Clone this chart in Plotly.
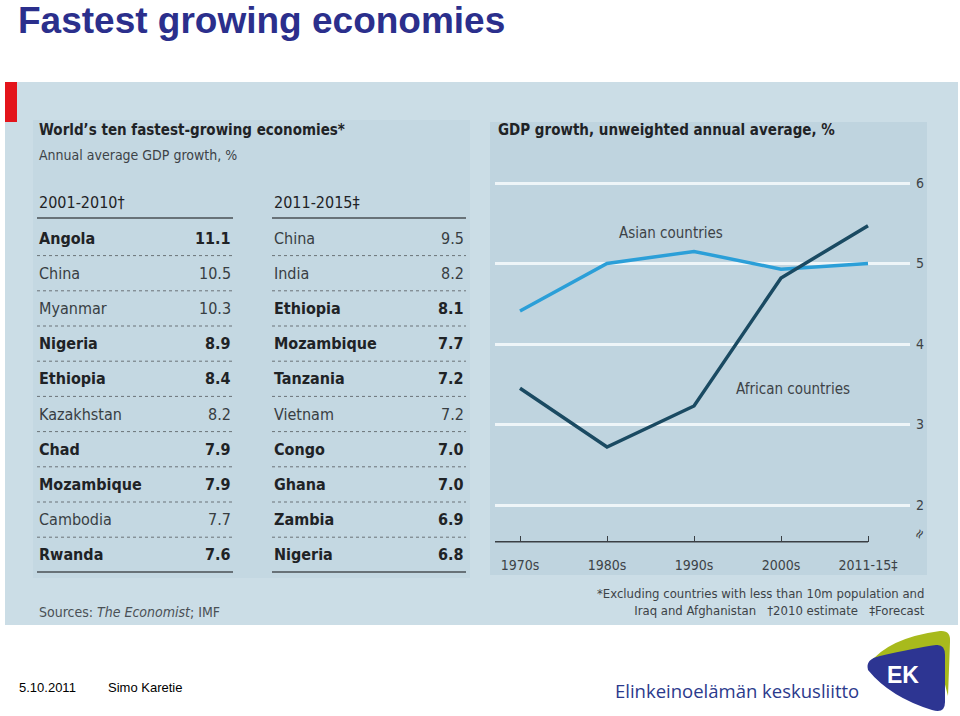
import plotly.graph_objects as go

# ---------------- data ----------------
decades = ["1970s", "1980s", "1990s", "2000s", "2011-15\u2021"]
asian_growth = [4.41, 5.0, 5.15, 4.93, 5.0]
african_growth = [3.45, 2.72, 3.23, 4.82, 5.47]
y_ticks = [2, 3, 4, 5, 6]

countries_2001_2010 = ["Angola", "China", "Myanmar", "Nigeria", "Ethiopia",
                       "Kazakhstan", "Chad", "Mozambique", "Cambodia", "Rwanda"]
growth_2001_2010 = ["11.1", "10.5", "10.3", "8.9", "8.4", "8.2", "7.9", "7.9", "7.7", "7.6"]
african_2001_2010 = [True, False, False, True, True, False, True, True, False, True]

countries_2011_2015 = ["China", "India", "Ethiopia", "Mozambique", "Tanzania",
                       "Vietnam", "Congo", "Ghana", "Zambia", "Nigeria"]
growth_2011_2015 = ["9.5", "8.2", "8.1", "7.7", "7.2", "7.2", "7.0", "7.0", "6.9", "6.8"]
african_2011_2015 = [False, False, True, True, True, False, True, True, True, True]

W, H = 960, 716


def px(x):
    return x / W


def py(y):
    return 1 - y / H


FONT = "DejaVu Sans Condensed, Liberation Sans Narrow, DejaVu Sans, sans-serif"
DARK = "#1f2326"
MID = "#3d4347"

fig = go.Figure()

# line chart
fig.add_trace(go.Scatter(x=decades, y=asian_growth, mode="lines",
                         line=dict(color="#2b9fd8", width=3.5), showlegend=False,
                         hoverinfo="skip"))
fig.add_trace(go.Scatter(x=decades, y=african_growth, mode="lines",
                         line=dict(color="#1a4a62", width=3.5), showlegend=False,
                         hoverinfo="skip"))

# axis geometry (pixels)
x_left, x_right = 495, 910
y_top, y_base = 160, 541.7
unit = 80.5
cat_first, cat_step = 520, 87
y_lo = 2 - (y_base - 505) / unit
y_hi = 6 + (183 - y_top) / unit
x_lo = -(cat_first - x_left) / cat_step
x_hi = (x_right - cat_first) / cat_step

fig.update_layout(
    width=W, height=H,
    margin=dict(l=0, r=0, t=0, b=0),
    paper_bgcolor="white",
    plot_bgcolor="rgba(0,0,0,0)",
    xaxis=dict(domain=[px(x_left), px(x_right)], range=[x_lo, x_hi],
               type="category", showgrid=False, zeroline=False, showline=False,
               ticks="inside", ticklen=6, tickwidth=1, tickcolor="#3a3f44",
               tickfont=dict(family=FONT, size=14, color=MID),
               ticklabelstandoff=13),
    yaxis=dict(domain=[py(y_base), py(y_top)], range=[y_lo, y_hi],
               side="right", tickvals=y_ticks, showgrid=True,
               gridcolor="#eef5f8", gridwidth=2.5, zeroline=False, showline=False,
               ticks="", tickfont=dict(family=FONT, size=14, color=MID),
               ticklabelstandoff=5),
)

shapes = []
# main panel
shapes.append(dict(type="rect", xref="paper", yref="paper", x0=px(5), x1=px(958),
                   y0=py(625), y1=py(82), fillcolor="#cbdde6", line=dict(width=0), layer="below"))
# table sub-panel
shapes.append(dict(type="rect", xref="paper", yref="paper", x0=px(33), x1=px(470),
                   y0=py(578), y1=py(120), fillcolor="#c4d8e2", line=dict(width=0), layer="below"))
# chart sub-panel
shapes.append(dict(type="rect", xref="paper", yref="paper", x0=px(490), x1=px(927),
                   y0=py(575), y1=py(122), fillcolor="#bfd4df", line=dict(width=0), layer="below"))
# red marker
shapes.append(dict(type="rect", xref="paper", yref="paper", x0=px(5), x1=px(17),
                   y0=py(122), y1=py(82), fillcolor="#e3141b", line=dict(width=0), layer="below"))
# baseline of the line chart
shapes.append(dict(type="line", xref="x", yref="y domain", x0=x_lo, x1=4, y0=0, y1=0,
                   line=dict(color="#3a3f44", width=1.5)))

annotations = []


def ann(text, x, y, size, color=DARK, bold=False, xanchor="left", family=FONT, **kw):
    if bold:
        text = "<b>" + text + "</b>"
    annotations.append(dict(text=text, x=px(x), y=py(y), xref="paper", yref="paper",
                            xanchor=xanchor, yanchor="middle", showarrow=False,
                            font=dict(size=size, color=color, family=family), **kw))


# slide title
ann("Fastest growing economies", 16, 20, 37, color="#2b2f8c", bold=True,
    family="Liberation Sans, Arial, sans-serif")

# table titles
ann("World\u2019s ten fastest-growing economies*", 37, 130, 15, bold=True)
ann("Annual average GDP growth, %", 37, 155, 14, color=MID)
ann("2001-2010\u2020", 37, 202, 16, color=DARK)
ann("2011-2015\u2021", 272, 202, 16, color=DARK)

row_y0, row_step = 238, 35.2
columns = [
    (countries_2001_2010, growth_2001_2010, african_2001_2010, 37, 233),
    (countries_2011_2015, growth_2011_2015, african_2011_2015, 272, 466),
]
for names, vals, bolds, xl, xr in columns:
    shapes.append(dict(type="line", xref="paper", yref="paper", x0=px(xl), x1=px(xr),
                       y0=py(218), y1=py(218), line=dict(color="#4a5055", width=1.5)))
    shapes.append(dict(type="line", xref="paper", yref="paper", x0=px(xl), x1=px(xr),
                       y0=py(572), y1=py(572), line=dict(color="#4a5055", width=1.5)))
    for i, (n, v, b) in enumerate(zip(names, vals, bolds)):
        y = row_y0 + i * row_step
        col = DARK if b else "#383e42"
        ann(n, xl, y, 16, color=col, bold=b)
        ann(v, xr, y, 16, color=col, bold=b, xanchor="right")
        if i < len(names) - 1:
            yl = y + row_step / 2
            shapes.append(dict(type="line", xref="paper", yref="paper", x0=px(xl), x1=px(xr),
                               y0=py(yl), y1=py(yl),
                               line=dict(color="#6b7378", width=1, dash="dot")))

ann("Sources: <i>The Economist</i>; IMF", 37, 612, 14, color="#4a5055")

# chart texts
ann("GDP growth, unweighted annual average, %", 496, 130, 15, bold=True)
annotations.append(dict(text="Asian countries", x=2, y=5.38, xref="x", yref="y",
                        xanchor="center", yanchor="middle", showarrow=False,
                        font=dict(size=15, color=MID, family=FONT), xshift=-23))
annotations.append(dict(text="African countries", x=3, y=3.44, xref="x", yref="y",
                        xanchor="center", yanchor="middle", showarrow=False,
                        font=dict(size=15, color=MID, family=FONT), xshift=12))
ann("\u2248", 919, 534, 14, color=MID, xanchor="center", textangle=-60)
annotations.append(dict(text="*Excluding countries with less than 10m population and<br>"
                             "Iraq and Afghanistan &nbsp;&nbsp;\u20202010 estimate &nbsp;&nbsp;\u2021Forecast",
                        x=px(927), y=py(602), xref="paper", yref="paper",
                        xanchor="right", yanchor="middle", align="right", showarrow=False,
                        font=dict(size=13, color=MID, family=FONT)))

# footer
ann("5.10.2011", 17, 687, 13, color="black", family="Liberation Sans, Arial, sans-serif")
ann("Simo Karetie", 106, 687, 13, color="black", family="Liberation Sans, Arial, sans-serif")
ann("Elinkeinoelämän keskusliitto", 613, 690, 18.5, color="#2b3a8c",
    family="Open Sans, Lato, sans-serif")


def path(cmds):
    out = []
    for c in cmds:
        if c[0] == "Z":
            out.append("Z")
        elif c[0] in ("M", "L"):
            out.append(f"{c[0]} {px(c[1]):.5f},{py(c[2]):.5f}")
        elif c[0] == "Q":
            out.append(f"Q {px(c[1]):.5f},{py(c[2]):.5f} {px(c[3]):.5f},{py(c[4]):.5f}")
    return " ".join(out)


yellow = path([("M", 869, 664), ("Q", 888, 638, 940, 631), ("Q", 951, 630, 950, 642),
               ("L", 948, 696), ("L", 936, 650), ("Z",)])
blue = path([("M", 868, 670), ("Q", 865, 659, 880, 656), ("Q", 915, 648, 936, 645),
             ("Q", 945, 644, 945, 655), ("L", 945, 702), ("Q", 945, 714, 932, 710),
             ("Q", 890, 697, 868, 670), ("Z",)])
shapes.append(dict(type="path", xref="paper", yref="paper", path=yellow,
                   fillcolor="#a8ba1c", line=dict(width=0)))
shapes.append(dict(type="path", xref="paper", yref="paper", path=blue,
                   fillcolor="#2d3592", line=dict(width=0)))
ann("EK", 903, 675, 23, color="white", bold=True, xanchor="center",
    family="Liberation Sans, Arial, sans-serif")

fig.update_layout(shapes=shapes, annotations=annotations)
fig.write_html("out.html", config={"displayModeBar": False},
               post_script="document.body.style.margin='0';document.body.style.overflow='hidden';")
